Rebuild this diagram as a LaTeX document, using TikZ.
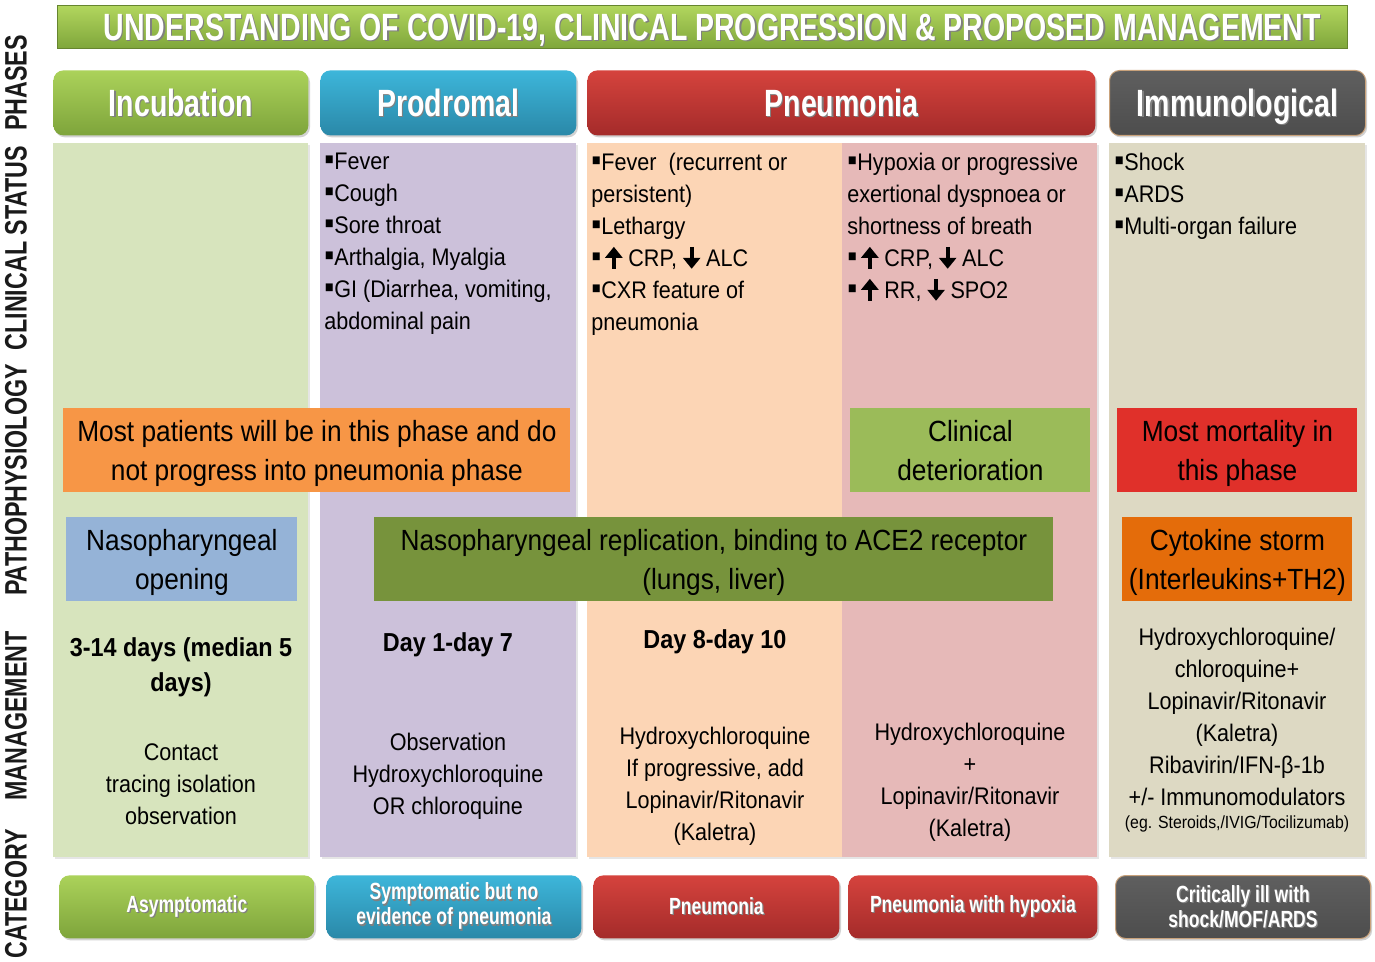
\documentclass[tikz,border=0pt]{standalone}
\usepackage{fontspec}
\setmainfont{Liberation Sans}[FakeStretch=0.9]
\newfontfamily\condfont{Liberation Sans}[FakeStretch=0.75]
\usetikzlibrary{arrows.meta,positioning,shadows}
\definecolor{ttltop}{HTML}{B2D65E}
\definecolor{ttlbot}{HTML}{7FA63B}
\definecolor{greentop}{HTML}{ABD25A}
\definecolor{greenbot}{HTML}{7EA43B}
\definecolor{bluetop}{HTML}{3DB6DA}
\definecolor{bluebot}{HTML}{2A88A8}
\definecolor{redtop}{HTML}{D5433D}
\definecolor{redbot}{HTML}{A42B2A}
\definecolor{graytop}{HTML}{5F5F5F}
\definecolor{graybot}{HTML}{4D4D4D}
\definecolor{grayedge}{HTML}{C9A27B}
\definecolor{colinc}{HTML}{D7E4BD}
\definecolor{colpro}{HTML}{CCC1DA}
\definecolor{colpna}{HTML}{FCD5B5}
\definecolor{colpnb}{HTML}{E6B9B8}
\definecolor{colimm}{HTML}{DDD9C3}
\definecolor{bandorange}{HTML}{F79646}
\definecolor{bandgreen}{HTML}{9BBB59}
\definecolor{bandred}{HTML}{E0302A}
\definecolor{bandblue}{HTML}{95B3D7}
\definecolor{bandolive}{HTML}{77933C}
\definecolor{banddeep}{HTML}{E46C0A}
\definecolor{textdark}{HTML}{1A1A1A}
\newcommand\shtext[1]{\leavevmode\rlap{\hspace{0.6pt}\raisebox{-0.6pt}{\textcolor{black!50}{#1}}}#1}
\newcommand\bul{\scalebox{1.3}{▪}}
\newcommand\arup{\tikz[baseline=0pt]\draw[line width=2pt,-{Triangle[width=8.5pt,length=5.5pt]}] (0pt,-1pt) -- (0pt,10pt);}
\newcommand\ardn{\tikz[baseline=0pt]\draw[line width=2pt,-{Triangle[width=8.5pt,length=5.5pt]}] (0pt,10pt) -- (0pt,-1pt);}
\begin{document}
\begin{tikzpicture}[x=0.5pt,y=-0.5pt,
 hdr/.style={rounded corners=5pt,anchor=north west,minimum height=32.5pt,inner sep=0pt,text height=13.6pt,text depth=0pt,text=white,font=\condfont\bfseries\fontsize{19}{22}\selectfont,drop shadow={opacity=0.35,shadow xshift=0.8pt,shadow yshift=-1pt}},
 cat/.style={rounded corners=5pt,anchor=north west,minimum height=31.5pt,inner sep=0pt,text=white,align=center,font=\condfont\bfseries\fontsize{11.7}{12.5}\selectfont,drop shadow={opacity=0.35,shadow xshift=0.8pt,shadow yshift=-1pt}},
 col/.style={anchor=north west,minimum height=357pt,inner sep=0pt,drop shadow={opacity=0.2,shadow xshift=0.8pt,shadow yshift=-0.8pt}},
 sym/.style={anchor=north west,align=left,inner sep=0pt,font=\fontsize{12}{16}\selectfont},
 band/.style={anchor=north west,minimum height=42pt,inner sep=0pt,text depth=0pt,align=center,font=\fontsize{14.6}{19.5}\selectfont},
 mgmt/.style={align=center,inner sep=0pt,font=\fontsize{12}{16}\selectfont},
 dur/.style={align=center,inner sep=0pt,font=\bfseries\fontsize{13}{17.5}\selectfont},
 side/.style={rotate=90,inner sep=0pt,text=textdark,font=\condfont\bfseries\fontsize{15.5}{18}\selectfont}]
\useasboundingbox (0,0) rectangle (1375,962);
\fill[white] (0,0) rectangle (1375,962);

% row labels
\node[side] (lphase) at (16,83) {PHASES};
\node[side] (lclin) at (16,248) {CLINICAL STATUS};
\node[side] (lpath) at (16,480) {PATHOPHYSIOLOGY};
\node[side] (lmgmt) at (16,716) {MANAGEMENT};
\node[side] (lcat) at (16,894) {CATEGORY};

% title and phases
\node[anchor=north west,minimum width=645pt,minimum height=21.5pt,inner sep=0pt,text height=13.8pt,text depth=0pt,top color=ttltop,bottom color=ttlbot,draw=ttlbot!80!black,line width=0.3pt,text=white,font=\condfont\bfseries\fontsize{19}{20}\selectfont] (title) at (57,5) {\hspace{10pt}\shtext{UNDERSTANDING OF COVID-19, CLINICAL PROGRESSION \& PROPOSED MANAGEMENT}};
\node[hdr,minimum width=127.5pt,top color=greentop,bottom color=greenbot] (hinc) at (53,70) {\shtext{Incubation}};
\node[hdr,minimum width=128pt,top color=bluetop,bottom color=bluebot] (hpro) at (320,70) {\shtext{Prodromal}};
\node[hdr,minimum width=254pt,top color=redtop,bottom color=redbot] (hpn) at (587,70) {\shtext{Pneumonia}};
\node[hdr,minimum width=128pt,top color=graytop,bottom color=graybot,draw=grayedge,line width=0.5pt] (himm) at (1109,70) {\shtext{Immunological}};

% columns
\node[col,fill=colinc,minimum width=127.5pt] (cinc) at (53,143) {};
\node[col,fill=colpro,minimum width=128pt] (cpro) at (320,143) {};
\node[col,fill=colpna,minimum width=127.5pt] (cpna) at (587,143) {};
\node[col,fill=colpnb,minimum width=127.5pt] (cpnb) at (842,143) {};
\node[col,fill=colimm,minimum width=128pt] (cimm) at (1109,143) {};

% clinical status
\node[sym] (spro) at (324,153) {\bul Fever\\\bul Cough\\\bul Sore throat\\\bul Arthalgia, Myalgia\\\bul GI (Diarrhea, vomiting,\\abdominal pain};
\node[sym] (spna) at (591,153) {\bul Fever~ (recurrent or\\persistent)\\\bul Lethargy\\\bul\,\arup\ CRP, \ardn\ ALC\\\bul CXR feature of\\pneumonia};
\node[sym] (spnb) at (847,153) {\bul Hypoxia or progressive\\exertional dyspnoea or\\shortness of breath\\\bul\,\arup\ CRP, \ardn\ ALC\\\bul\,\arup\ RR, \ardn\ SPO2};
\node[sym] (simm) at (1114,153) {\bul Shock\\\bul ARDS\\\bul Multi-organ failure};

% pathophysiology
\node[band,fill=bandorange,minimum width=253.5pt] (bmost) at (63,408) {Most patients will be in this phase and do\\not progress into pneumonia phase};
\node[band,fill=bandgreen,minimum width=120pt] (bdet) at (850,408) {Clinical\\deterioration};
\node[band,fill=bandred,minimum width=120pt] (bmort) at (1117,408) {Most mortality in\\this phase};
\node[band,fill=bandblue,minimum width=115.5pt] (bnaso) at (66,517) {Nasopharyngeal\\opening};
\node[band,fill=bandolive,minimum width=339.5pt] (brep) at (374,517) {Nasopharyngeal replication, binding to ACE2 receptor\\(lungs, liver)};
\node[band,fill=banddeep,minimum width=115pt] (bcyto) at (1122,517) {Cytokine storm\\(Interleukins+TH2)};

% management
\node[dur] (dinc) at (181,667) {3-14 days (median 5\\days)};
\node[dur] (dpro) at (448,645) {Day 1-day 7};
\node[dur] (dpna) at (715,642) {Day 8-day 10};
\node[mgmt] (minc) at (181,784) {Contact\\tracing isolation\\observation};
\node[mgmt] (mpro) at (448,776) {Observation\\Hydroxychloroquine\\OR chloroquine};
\node[mgmt] (mpna) at (715,786) {Hydroxychloroquine\\If progressive, add\\Lopinavir/Ritonavir\\(Kaletra)};
\node[mgmt] (mpnb) at (970,782) {Hydroxychloroquine\\+\\Lopinavir/Ritonavir\\(Kaletra)};
\node[mgmt] (mimm) at (1237,717) {Hydroxychloroquine/\\chloroquine+\\Lopinavir/Ritonavir\\(Kaletra)\\Ribavirin/IFN-β-1b\\+/- Immunomodulators};
\node[mgmt,font=\fontsize{8.8}{10}\selectfont] (mnote) at (1237,824) {(eg. Steroids,/IVIG/Tocilizumab)};

% category
\node[cat,minimum width=127.5pt,top color=greentop,bottom color=greenbot] (kasym) at (59,875) {\shtext{Asymptomatic}};
\node[cat,minimum width=127.5pt,top color=bluetop,bottom color=bluebot] (ksym) at (326,875) {\shtext{Symptomatic but no}\\\shtext{evidence of pneumonia}};
\node[cat,minimum width=123pt,top color=redtop,bottom color=redbot] (kpn) at (593,875) {\shtext{Pneumonia}};
\node[cat,minimum width=124.5pt,top color=redtop,bottom color=redbot] (khyp) at (848,875) {\shtext{Pneumonia with hypoxia}};
\node[cat,minimum width=127.5pt,top color=graytop,bottom color=graybot,draw=grayedge,line width=0.5pt] (kcrit) at (1115,875) {\shtext{Critically ill with}\\\shtext{shock/MOF/ARDS}};
\end{tikzpicture}
\end{document}
